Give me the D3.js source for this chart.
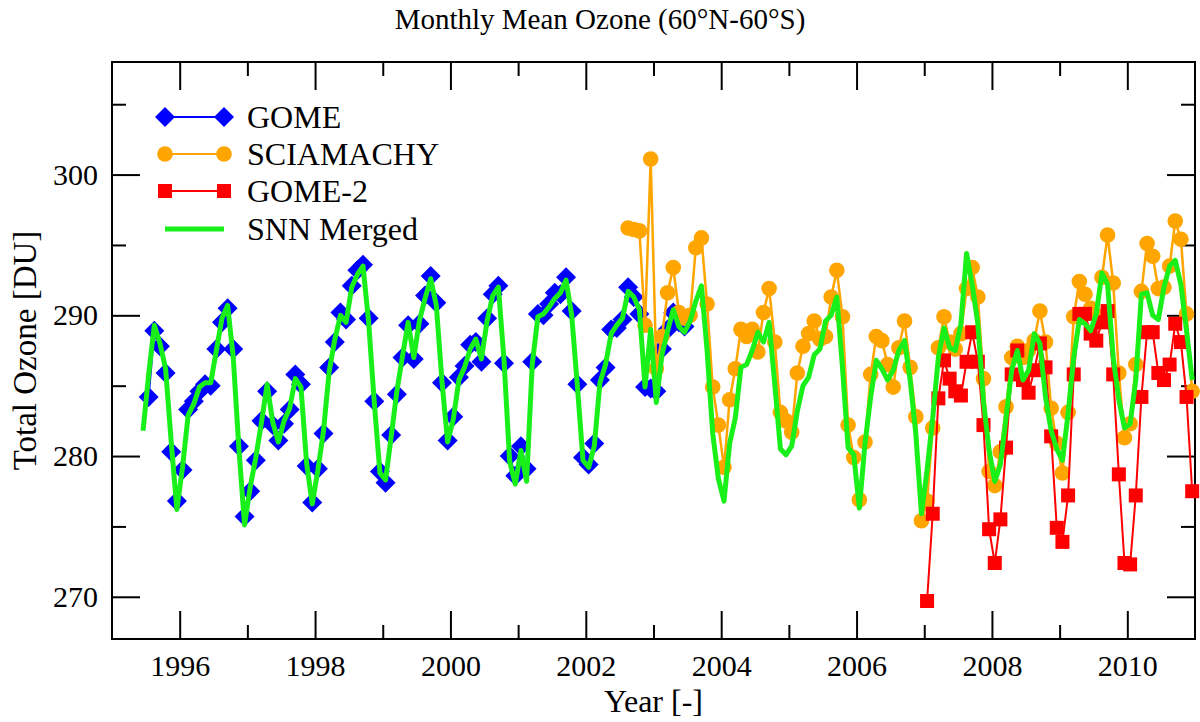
<!DOCTYPE html>
<html>
<head>
<meta charset="utf-8">
<script src="https://cdn.jsdelivr.net/npm/d3@7"></script>
<style>
  body { margin: 0; background: #fff; }
  svg { display: block; font-family: "Liberation Serif", "Times New Roman", serif; }
</style>
</head>
<body>
<div id="chart"></div>
<script>
// monthly means, first value = start month
const gomeStart = [1995, 7];
const gome = [
  284.2, 288.9, 287.8, 285.9, 280.3, 276.8,
  279.0, 283.3, 283.9, 284.6, 285.1, 285.0, 287.6, 289.5, 290.5, 287.6, 280.7, 275.7,
  277.5, 279.7, 282.5, 284.6, 282.2, 281.1, 282.3, 283.3, 285.8, 285.1, 279.3, 276.7,
  279.1, 281.6, 286.3, 288.1, 290.2, 289.7, 292.1, 293.2, 293.6, 289.8, 283.9, 278.9,
  278.1, 281.5, 284.4, 287.0, 289.3, 286.9, 289.4, 291.4, 292.8, 290.9, 285.2, 281.1,
  282.8, 285.6, 286.4, 287.9, 288.1, 286.7, 289.8, 291.5, 292.1, 286.6, 280.0, 278.6,
  280.7, 279.1, 286.7, 290.1, 290.0, 290.8, 291.6, 291.5, 292.7, 290.3, 285.1, 279.9,
  279.4, 280.9, 285.4, 286.3, 289.0, 289.1, 289.7, 292.0, 291.3, 290.1, 284.9, 284.8,
  284.6, 287.6, 289.0, 290.2, 289.5, 289.2
];

const sciaStart = [2002, 8];
const scia = [
  296.2, 296.1, 296.0, 289.3, 301.1,
  286.2, 288.5, 291.6, 293.4, 290.2, 289.8, 290.0, 294.8, 295.5, 290.8, 284.9, 282.2,
  279.2, 284.0, 286.2, 289.0, 288.5, 289.0, 287.4, 290.2, 291.9, 288.1, 283.1, 282.5,
  281.7, 285.9, 287.8, 288.7, 289.6, 288.3, 288.5, 291.3, 293.2, 289.9, 282.2, 279.9,
  276.9, 281.0, 285.8, 288.5, 288.2, 286.5, 284.9, 287.7, 289.6, 286.3, 282.8, 275.4,
  276.8, 282.0, 287.7, 289.9, 288.1, 287.6, 288.7, 291.9, 293.4, 291.3, 285.5, 278.9,
  277.9, 280.3, 283.5, 287.0, 287.8, 287.0, 287.5, 288.2, 290.3, 288.1, 283.4, 280.9,
  278.8, 283.1, 289.9, 292.4, 291.5, 290.5, 290.0, 292.7, 295.7, 292.3, 285.9, 281.3,
  282.3, 286.5, 291.7, 295.1, 294.2, 291.9, 292.0, 293.5, 296.7, 295.4, 290.1, 284.6
];

const gome2Start = [2007, 1];
const gome2 = [
  269.7, 275.9, 284.1, 286.8, 285.5, 284.6, 284.3, 286.7, 288.8, 286.7, 282.2, 274.8,
  272.4, 275.5, 280.6, 285.8, 287.5, 285.4, 284.5, 286.1, 288.0, 286.3, 281.4, 274.9,
  273.9, 277.2, 285.8, 290.1, 290.1, 288.7, 288.2, 289.5, 290.3, 285.8, 278.7, 272.4,
  272.3, 277.2, 284.2, 288.8, 288.8, 285.9, 285.4, 286.5, 289.4, 288.1, 284.2, 277.5
];

const snnStart = [1995, 6];
const snn = [
  281.8, 285.8, 289.3, 288.0, 286.2, 281.0, 276.2,
  279.2, 282.9, 283.7, 284.9, 285.2, 285.2, 287.5, 289.8, 290.7, 287.0, 280.5, 275.1,
  277.8, 279.9, 282.4, 285.1, 282.4, 281.0, 282.5, 283.4, 285.5, 284.9, 279.5, 276.6,
  279.0, 281.8, 286.0, 288.3, 290.0, 289.5, 292.0, 292.9, 293.5, 289.5, 283.8, 278.8,
  278.3, 281.4, 284.6, 287.1, 289.5, 287.0, 289.6, 291.2, 292.6, 290.7, 285.3, 281.0,
  282.6, 285.4, 286.3, 287.6, 288.3, 286.9, 289.6, 291.4, 292.0, 286.8, 279.6, 278.0,
  280.4, 278.2, 286.5, 289.9, 290.1, 290.6, 291.2, 291.6, 292.5, 290.0, 285.0, 279.7,
  279.2, 280.7, 285.2, 286.5, 288.7, 289.3, 289.8, 291.7, 291.3, 290.4, 284.9, 289.0,
  283.8, 287.2, 288.9, 290.4, 289.2, 288.8, 289.6, 291.0, 292.1, 287.5, 281.6, 278.4,
  276.8, 280.9, 282.7, 286.3, 286.5, 287.5, 288.8, 288.1, 289.5, 285.1, 280.5, 280.1,
  280.7, 283.2, 285.0, 285.6, 287.2, 287.6, 289.6, 290.0, 291.3, 286.3, 280.6, 280.1,
  276.3, 280.9, 284.2, 286.8, 286.2, 285.4, 286.1, 287.5, 288.2, 285.4, 281.6, 275.9,
  279.0, 282.7, 287.0, 289.1, 287.7, 287.5, 289.4, 294.4, 292.2, 289.4, 283.9, 280.4,
  278.2, 279.4, 282.7, 286.1, 287.5, 285.4, 286.1, 288.7, 288.0, 284.2, 281.8, 280.5,
  279.7, 283.0, 287.0, 289.7, 289.4, 288.9, 290.1, 293.0, 292.2, 287.0, 284.0, 282.0,
  282.3, 285.4, 291.5, 291.6, 290.0, 289.7, 292.0, 293.5, 293.9, 292.2, 288.9, 285.4
];

const yearMajor = [1996, 1998, 2000, 2002, 2004, 2006, 2008, 2010];
const yearMinor = [1997, 1999, 2001, 2003, 2005, 2007, 2009];
const ozoneMajor = [270, 280, 290, 300];
const ozoneMinor = [275, 285, 295, 305];
const legendLabels = ["GOME", "SCIAMACHY", "GOME-2", "SNN Merged"];

const colors = { gome: "#0000ff", scia: "#ffa500", gome2: "#ff0000", snn: "#19f019" };

const W = 1200, H = 722;
const plotL = 112, plotR = 1195, plotT = 62, plotB = 639;

const svg = d3.select("#chart").append("svg")
  .attr("width", W).attr("height", H);

const x = d3.scaleLinear().domain([1995, 2011]).range([plotL, plotR]);
const y = d3.scaleLinear().domain([267, 308]).range([plotB, plotT]);

// turn a monthly array into {t, v} points centred in each month
function toPoints(start, vals) {
  return vals.map((v, i) => {
    const m = start[1] - 1 + i;
    return { t: start[0] + (m + 0.5) / 12, v: v };
  });
}

const tickFont = 30;
const labelFont = 32;

// axes, ticks pointing inward
function styleAxis(g) {
  g.select(".domain").remove();
  g.selectAll(".tick line").attr("stroke", "#000").attr("stroke-width", 2);
  g.selectAll("text").attr("font-size", tickFont).attr("fill", "#000")
    .attr("font-family", "Liberation Serif, serif");
}

svg.append("g").attr("transform", `translate(0,${plotB})`)
  .call(d3.axisBottom(x).tickValues(yearMajor).tickFormat(d3.format("d")).tickSize(-28).tickPadding(16))
  .call(styleAxis);
svg.append("g").attr("transform", `translate(0,${plotB})`)
  .call(d3.axisBottom(x).tickValues(yearMinor).tickFormat("").tickSize(-14))
  .call(styleAxis);
svg.append("g").attr("transform", `translate(0,${plotT})`)
  .call(d3.axisTop(x).tickValues(yearMajor).tickFormat("").tickSize(-28))
  .call(styleAxis);
svg.append("g").attr("transform", `translate(0,${plotT})`)
  .call(d3.axisTop(x).tickValues(yearMinor).tickFormat("").tickSize(-14))
  .call(styleAxis);

svg.append("g").attr("transform", `translate(${plotL},0)`)
  .call(d3.axisLeft(y).tickValues(ozoneMajor).tickFormat(d3.format("d")).tickSize(-28).tickPadding(14))
  .call(styleAxis);
svg.append("g").attr("transform", `translate(${plotL},0)`)
  .call(d3.axisLeft(y).tickValues(ozoneMinor).tickFormat("").tickSize(-14))
  .call(styleAxis);
svg.append("g").attr("transform", `translate(${plotR},0)`)
  .call(d3.axisRight(y).tickValues(ozoneMajor).tickFormat("").tickSize(-28))
  .call(styleAxis);
svg.append("g").attr("transform", `translate(${plotR},0)`)
  .call(d3.axisRight(y).tickValues(ozoneMinor).tickFormat("").tickSize(-14))
  .call(styleAxis);

svg.append("rect")
  .attr("x", plotL).attr("y", plotT)
  .attr("width", plotR - plotL).attr("height", plotB - plotT)
  .attr("fill", "none").attr("stroke", "#000").attr("stroke-width", 2);

const line = d3.line().x(d => x(d.t)).y(d => y(d.v));

const diamond = d3.symbol().type(d3.symbolSquare).size(200);

function drawSeries(pts, color, width, marker) {
  const g = svg.append("g");
  g.append("path").datum(pts)
    .attr("d", line).attr("fill", "none")
    .attr("stroke", color).attr("stroke-width", width)
    .attr("stroke-linejoin", "round");
  if (marker === "diamond") {
    g.selectAll("path.m").data(pts).join("path").attr("class", "m")
      .attr("d", diamond)
      .attr("transform", d => `translate(${x(d.t)},${y(d.v)}) rotate(45)`)
      .attr("fill", color);
  } else if (marker === "circle") {
    g.selectAll("circle").data(pts).join("circle")
      .attr("cx", d => x(d.t)).attr("cy", d => y(d.v)).attr("r", 7.8)
      .attr("fill", color);
  } else if (marker === "square") {
    g.selectAll("rect").data(pts).join("rect")
      .attr("x", d => x(d.t) - 7).attr("y", d => y(d.v) - 7)
      .attr("width", 14).attr("height", 14)
      .attr("fill", color);
  }
}

drawSeries(toPoints(gomeStart, gome), colors.gome, 2, "diamond");
drawSeries(toPoints(sciaStart, scia), colors.scia, 2.5, "circle");
drawSeries(toPoints(gome2Start, gome2), colors.gome2, 2, "square");
drawSeries(toPoints(snnStart, snn), colors.snn, 5, null);

// legend
const legRows = [117, 154, 191, 229];
const legend = svg.append("g");
const legColors = [colors.gome, colors.scia, colors.gome2, colors.snn];
const legMarkers = ["diamond", "circle", "square", null];
legendLabels.forEach((lab, i) => {
  const yy = legRows[i];
  const row = legend.append("g");
  row.append("line").attr("x1", 165).attr("x2", 224).attr("y1", yy).attr("y2", yy)
    .attr("stroke", legColors[i]).attr("stroke-width", i === 3 ? 5 : 2);
  [165, 224].forEach(cx => {
    if (legMarkers[i] === "diamond") {
      row.append("path").attr("d", diamond)
        .attr("transform", `translate(${cx},${yy}) rotate(45)`).attr("fill", legColors[i]);
    } else if (legMarkers[i] === "circle") {
      row.append("circle").attr("cx", cx).attr("cy", yy).attr("r", 7.8).attr("fill", legColors[i]);
    } else if (legMarkers[i] === "square") {
      row.append("rect").attr("x", cx - 7).attr("y", yy - 7).attr("width", 14).attr("height", 14)
        .attr("fill", legColors[i]);
    }
  });
  row.append("text").attr("x", 247).attr("y", yy).attr("dy", "0.35em")
    .attr("font-size", labelFont).text(lab);
});

// titles
svg.append("text").attr("x", 600).attr("y", 29).attr("text-anchor", "middle")
  .attr("font-size", 29).text("Monthly Mean Ozone (60°N-60°S)");
svg.append("text").attr("x", (plotL + plotR) / 2).attr("y", 712).attr("text-anchor", "middle")
  .attr("font-size", labelFont).text("Year [-]");
svg.append("text").attr("transform", `translate(36,${(plotT + plotB) / 2}) rotate(-90)`)
  .attr("text-anchor", "middle").attr("font-size", labelFont + 1).text("Total Ozone [DU]");
</script>
</body>
</html>
